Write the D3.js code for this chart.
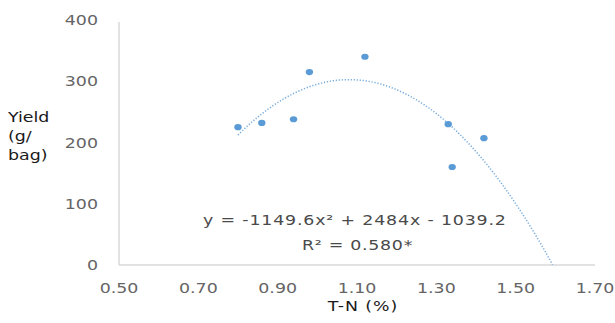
<!DOCTYPE html>
<html>
<head>
<meta charset="utf-8">
<script src="https://cdn.jsdelivr.net/npm/d3@7"></script>
<style>
  body { margin: 0; background: #fff; }
  text { font-family: "DejaVu Sans", sans-serif; }
</style>
</head>
<body>
<div id="chart"></div>
<script>
// T-N (%) vs yield (g/bag)
const tnValues = [0.80, 0.86, 0.94, 0.98, 1.12, 1.33, 1.34, 1.42];
const yieldValues = [225, 232, 238, 315, 340, 230, 160, 207];
const xTicks = [0.5, 0.7, 0.9, 1.1, 1.3, 1.5, 1.7];
const yTicks = [0, 100, 200, 300, 400];
// quadratic trendline coefficients: a*x^2 + b*x + c
const trendCoef = [-1149.6, 2484, -1039.2];
const trendRange = [0.80, 1.593];
const equationLabel = "y = -1149.6x\u00B2 + 2484x - 1039.2";
const r2Label = "R\u00B2 = 0.580*";

const width = 615, height = 323;
const margin = { left: 119, right: 20, top: 20, bottom: 58 };
const stretch = 1.2;
const fontSize = "14.5px";

const svg = d3.select("#chart").append("svg")
  .attr("width", width)
  .attr("height", height);

const xScale = d3.scaleLinear().domain([0.5, 1.7]).range([margin.left, width - margin.right]);
const yScale = d3.scaleLinear().domain([0, 400]).range([height - margin.bottom, margin.top]);

// axes lines
svg.append("line")
  .attr("x1", xScale(0.5)).attr("x2", xScale(0.5))
  .attr("y1", yScale(400) + 2).attr("y2", yScale(0))
  .style("stroke", "#d9d9d9").style("stroke-width", 1.5);
svg.append("line")
  .attr("x1", xScale(0.5)).attr("x2", xScale(1.7))
  .attr("y1", yScale(0)).attr("y2", yScale(0))
  .style("stroke", "#d9d9d9").style("stroke-width", 1.5);

const stretched = (sel, x, y) => sel.attr("transform", `translate(${x},${y}) scale(${stretch},1)`);

svg.selectAll(".y-tick")
  .data(yTicks)
  .join("text")
  .attr("class", "y-tick")
  .attr("text-anchor", "end")
  .attr("dy", "0.35em")
  .style("font-size", fontSize)
  .style("fill", "#656565")
  .each(function (d) { stretched(d3.select(this), 98, yScale(d)); })
  .text(d => d);

svg.selectAll(".x-tick")
  .data(xTicks)
  .join("text")
  .attr("class", "x-tick")
  .attr("text-anchor", "middle")
  .attr("dy", "0.35em")
  .style("font-size", fontSize)
  .style("fill", "#656565")
  .each(function (d) { stretched(d3.select(this), xScale(d), 288); })
  .text(d => d.toFixed(2));

// axis titles
const xTitle = svg.append("text")
  .attr("text-anchor", "middle")
  .attr("dy", "0.35em")
  .style("font-size", fontSize)
  .style("letter-spacing", "0.8px")
  .style("fill", "#1a1a1a")
  .text("T-N (%)");
stretched(xTitle, 363, 306);

const yTitle = svg.append("text")
  .style("font-size", fontSize)
  .style("fill", "#1a1a1a");
stretched(yTitle, 8, 0);
yTitle.selectAll("tspan")
  .data(["Yield", "(g/", "bag)"])
  .join("tspan")
  .attr("x", 0)
  .attr("y", (d, i) => 122 + i * 19)
  .text(d => d);

// trendline
const trend = x => trendCoef[0] * x * x + trendCoef[1] * x + trendCoef[2];
const trendX = d3.range(trendRange[0], trendRange[1], 0.005).concat([trendRange[1]]);
const trendLine = d3.line()
  .x(d => xScale(d))
  .y(d => yScale(Math.max(0, trend(d))))
  .curve(d3.curveMonotoneX);
svg.append("path")
  .attr("d", trendLine(trendX))
  .style("fill", "none")
  .style("stroke", "#5b9bd5")
  .style("stroke-width", 1.5)
  .style("stroke-dasharray", "1.2,1.8")
  .style("opacity", 0.85);

// points
svg.selectAll(".pt")
  .data(tnValues.map((x, i) => [x, yieldValues[i]]))
  .join("ellipse")
  .attr("class", "pt")
  .attr("cx", d => xScale(d[0]))
  .attr("cy", d => yScale(d[1]))
  .attr("rx", 3.7)
  .attr("ry", 3.1)
  .style("fill", "#5b9bd5");

// equation labels
const eq = svg.append("text")
  .style("font-size", fontSize)
  .style("letter-spacing", "0.7px")
  .style("fill", "#4a4a4a")
  .attr("dy", "0.35em")
  .attr("xml:space", "preserve")
  .text(equationLabel);
stretched(eq, 203, 220);

const r2 = svg.append("text")
  .style("font-size", fontSize)
  .style("letter-spacing", "0.6px")
  .style("fill", "#4a4a4a")
  .attr("dy", "0.35em")
  .text(r2Label);
stretched(r2, 302, 245);
</script>
</body>
</html>
